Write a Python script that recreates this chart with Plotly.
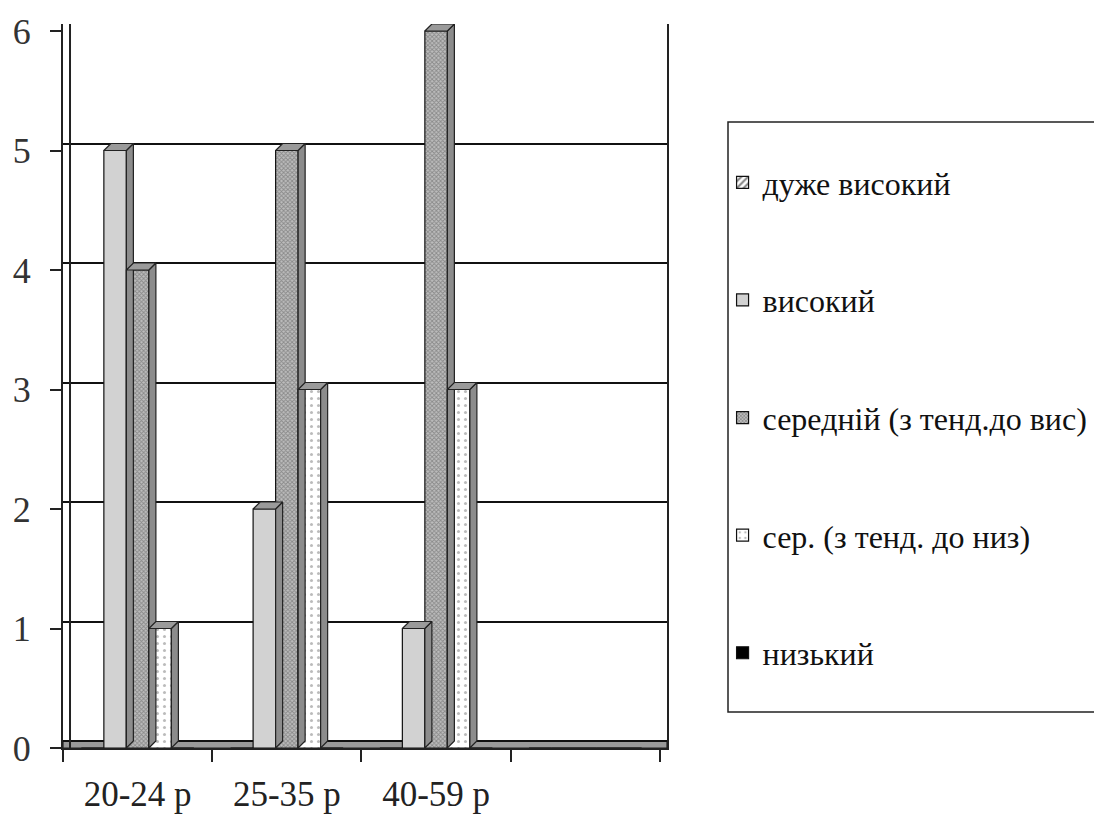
import plotly.graph_objects as go

categories = ["20-24 р", "25-35 р", "40-59 р", " "]
series_names = ["дуже високий", "високий", "середній (з тенд.до вис)", "сер. (з тенд. до низ)", "низький"]
values_duzhe = [0, 0, 0, 0]
values_vysokyi = [5, 2, 1, 0]
values_seredniy = [4, 5, 6, 0]
values_ser = [1, 3, 3, 0]
values_nyzkyi = [0, 0, 0, 0]
all_values = [values_duzhe, values_vysokyi, values_seredniy, values_ser, values_nyzkyi]
y_ticks = [0, 1, 2, 3, 4, 5, 6]

SERIF = "Liberation Serif, Times New Roman, DejaVu Serif, serif"

styles = [
    dict(color="white", pattern=dict(shape="/", fgcolor="black", bgcolor="white", size=6, solidity=0.4)),
    dict(color="#d2d2d2", pattern=dict(shape="")),
    dict(color="#a6a6a6", pattern=dict(shape="x", fgcolor="#555555", bgcolor="#bdbdbd", size=3, solidity=0.5)),
    dict(color="white", pattern=dict(shape=".", fgcolor="#777777", bgcolor="white", size=7, solidity=0.15)),
    dict(color="black", pattern=dict(shape="")),
]

bargap = 0.246
n = len(series_names)
bw = (1 - bargap) / n
dx = 0.047   # depth offset in category units
dy = 0.0586  # depth offset in value units
ymax = y_ticks[-1] + dy
xmax = len(categories) - 0.5 + dx

fig = go.Figure()

# 3D depth faces derived from data values
for i, vals in enumerate(all_values):
    for j, v in enumerate(vals):
        if v <= 0:
            continue
        xc = j - (1 - bargap) / 2 + (i + 0.5) * bw
        xr = xc + bw / 2
        xl = xc - bw / 2
        fig.add_trace(go.Scatter(
            x=[xr, xr + dx, xr + dx, xr, xr], y=[0, dy, v + dy, v, 0],
            mode="lines", fill="toself", fillcolor="#8c8c8c",
            line=dict(color="#222222", width=1.2), showlegend=False, hoverinfo="skip",
            xaxis="x2"))
        fig.add_trace(go.Scatter(
            x=[xl, xl + dx, xr + dx, xr, xl], y=[v, v + dy, v + dy, v, v],
            mode="lines", fill="toself", fillcolor="#9a9a9a",
            line=dict(color="#222222", width=1.2), showlegend=False, hoverinfo="skip",
            xaxis="x2"))

for i, (name, vals) in enumerate(zip(series_names, all_values)):
    st = styles[i]
    fig.add_trace(go.Bar(
        x=categories, y=vals, name=name, legendgroup=f"g{i}",
        marker=dict(color=st["color"], pattern=st["pattern"],
                    line=dict(color="#111111", width=1.2)),
    ))

# invisible trace to activate the back-wall grid axis
fig.add_trace(go.Scatter(x=[None], y=[None], yaxis="y2", xaxis="x2", showlegend=False, hoverinfo="skip"))

fig.update_layout(
    width=1094, height=810,
    margin=dict(l=55, r=435, t=16, b=70, autoexpand=False),
    paper_bgcolor="white", plot_bgcolor="white",
    barmode="group", bargap=bargap, bargroupgap=0,
    font=dict(family=SERIF, color="#222222"),
    legend=dict(
        x=1.092, y=0.819, xanchor="left", yanchor="top",
        font=dict(family=SERIF, size=32, color="#111111"),
        traceorder="grouped", tracegroupgap=73,
        bgcolor="rgba(0,0,0,0)", borderwidth=0,
        itemwidth=30,
    ),
    xaxis=dict(
        type="category", categoryorder="array", categoryarray=categories,
        range=[-0.5, xmax],
        showline=True, linecolor="#222222", linewidth=2,
        ticks="outside", tickson="boundaries", ticklen=12, tickwidth=2, tickcolor="#222222",
        tickfont=dict(family=SERIF, size=35, color="#222222"),
        ticklabelstandoff=14,
        showgrid=False, zeroline=False, fixedrange=True,
    ),
    xaxis2=dict(overlaying="x", range=[-0.5, xmax], visible=False, fixedrange=True),
    yaxis=dict(
        range=[0, ymax], tickvals=y_ticks,
        showline=True, linecolor="#222222", linewidth=2, mirror=True,
        ticks="outside", ticklen=11, tickwidth=2, tickcolor="#222222",
        tickfont=dict(family=SERIF, size=36, color="#333333"),
        showgrid=False, zeroline=False, fixedrange=True, ticklabelstandoff=12,
    ),
    yaxis2=dict(
        overlaying="y", range=[-dy, y_ticks[-1]], tickvals=y_ticks,
        showgrid=True, gridcolor="#111111", gridwidth=2,
        showticklabels=False, ticks="", showline=False, zeroline=False, fixedrange=True,
    ),
    shapes=[
        dict(type="rect", xref="paper", yref="paper",
             x0=(728 - 63) / 604, x1=(1200 - 63) / 604,
             y0=(748 - 712) / 724, y1=(748 - 122) / 724,
             line=dict(color="#222222", width=1.5), fillcolor="rgba(0,0,0,0)"),
        dict(type="rect", xref="paper", yref="y", layer="below",
             x0=0, x1=1, y0=0, y1=dy,
             line=dict(color="#222222", width=1.2), fillcolor="#9a9a9a"),
        dict(type="line", xref="x", yref="paper", layer="above",
             x0=-0.5 + dx, x1=-0.5 + dx, y0=0, y1=1,
             line=dict(color="#222222", width=2)),
    ],
    showlegend=True,
)

fig.write_html("out.html")
